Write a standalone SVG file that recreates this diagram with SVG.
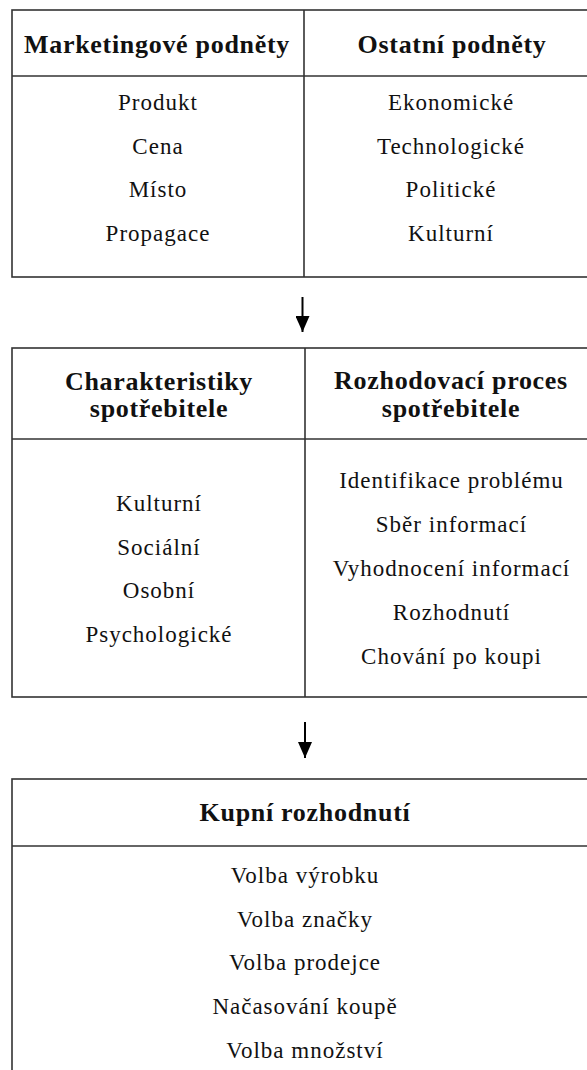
<svg xmlns="http://www.w3.org/2000/svg" width="587" height="1070" viewBox="0 0 587 1070">
<style>
.box{fill:#fff;stroke:#333;stroke-width:1.6}
.ln{stroke:#333;stroke-width:1.6}
.h{font-family:"Liberation Serif","Times New Roman",serif;font-weight:bold;font-size:26px;letter-spacing:0.7px;fill:#111;text-anchor:middle}
.t{font-family:"Liberation Serif","Times New Roman",serif;font-size:23px;letter-spacing:1px;fill:#111;text-anchor:middle}
.shaft{stroke:#000;stroke-width:2}
</style>
<defs>
<marker id="ah" markerWidth="16" markerHeight="14" refX="16" refY="7" orient="auto" markerUnits="userSpaceOnUse" viewBox="0 0 16 14">
<path d="M0,0 L16,7 L0,14 Z" fill="#000"/>
</marker>
</defs>
<rect width="587" height="1070" fill="#fff"/>

<g id="stimuli">
<rect class="box" x="12" y="10" width="588" height="267"/>
<line class="ln" x1="12" y1="76" x2="600" y2="76"/>
<line class="ln" x1="304" y1="10" x2="304" y2="277"/>
<text class="h" x="157" y="53">Marketingové podněty</text>
<text class="h" x="452" y="53">Ostatní podněty</text>
<text class="t" x="158" y="110">Produkt</text>
<text class="t" x="158" y="153.5">Cena</text>
<text class="t" x="158" y="197">Místo</text>
<text class="t" x="158" y="240.5">Propagace</text>
<text class="t" x="451" y="110">Ekonomické</text>
<text class="t" x="451" y="153.5">Technologické</text>
<text class="t" x="451" y="197">Politické</text>
<text class="t" x="451" y="240.5">Kulturní</text>
</g>

<g id="consumer">
<rect class="box" x="12" y="348" width="588" height="349"/>
<line class="ln" x1="12" y1="439" x2="600" y2="439"/>
<line class="ln" x1="305" y1="348" x2="305" y2="697"/>
<text class="h" x="159" y="390">Charakteristiky</text>
<text class="h" x="159" y="417">spotřebitele</text>
<text class="h" x="451" y="389">Rozhodovací proces</text>
<text class="h" x="451" y="417">spotřebitele</text>
<text class="t" x="159" y="511">Kulturní</text>
<text class="t" x="159" y="554.5">Sociální</text>
<text class="t" x="159" y="598">Osobní</text>
<text class="t" x="159" y="641.5">Psychologické</text>
<text class="t" x="451.5" y="488">Identifikace problému</text>
<text class="t" x="451.5" y="532">Sběr informací</text>
<text class="t" x="451.5" y="576">Vyhodnocení informací</text>
<text class="t" x="451.5" y="620">Rozhodnutí</text>
<text class="t" x="451.5" y="664">Chování po koupi</text>
</g>

<g id="decision">
<rect class="box" x="12" y="779" width="588" height="320"/>
<line class="ln" x1="12" y1="846" x2="600" y2="846"/>
<text class="h" x="305" y="821">Kupní rozhodnutí</text>
<text class="t" x="305" y="883">Volba výrobku</text>
<text class="t" x="305" y="927">Volba značky</text>
<text class="t" x="305" y="970">Volba prodejce</text>
<text class="t" x="305" y="1014">Načasování koupě</text>
<text class="t" x="305" y="1058">Volba množství</text>
</g>

<g id="connectors">
<line class="shaft" x1="302.5" y1="297" x2="302.5" y2="332" marker-end="url(#ah)"/>
<line class="shaft" x1="305" y1="722" x2="305" y2="758" marker-end="url(#ah)"/>
</g>
</svg>
